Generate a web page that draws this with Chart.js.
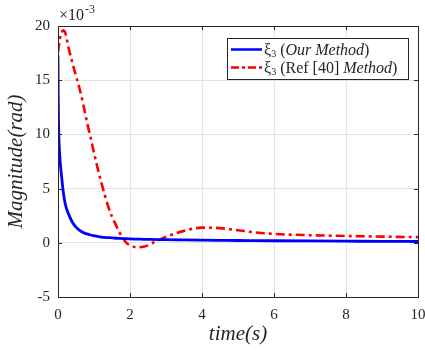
<!DOCTYPE html>
<html><head><meta charset="utf-8">
<script src="https://cdn.jsdelivr.net/npm/chart.js@4"></script>
<style>html,body{margin:0;padding:0;background:#fff}#wrap{width:425px;height:351px}</style>
</head><body><div id="wrap"><canvas id="c" width="425" height="351"></canvas></div>
<script>
const timeBlue = [0,0.005,0.015,0.03,0.06,0.1,0.15,0.2,0.3,0.4,0.5,0.6,0.7,0.8,0.9,1.0,1.2,1.4,1.6,1.8,2.0,2.2,2.4,2.6,2.8,3.0,3.5,4,4.5,5,5.5,6,7,8,9,10];
const ourMethod = [17.3,14.0,11.0,9.2,7.5,6.1,4.6,3.6,2.6,1.9,1.45,1.15,0.95,0.82,0.72,0.65,0.53,0.47,0.42,0.39,0.36,0.34,0.32,0.31,0.30,0.29,0.27,0.25,0.23,0.21,0.20,0.19,0.17,0.15,0.13,0.12];
const timeRed = [0,0.05,0.1,0.15,0.2,0.3,0.4,0.5,0.6,0.7,0.8,0.9,1.0,1.1,1.2,1.3,1.4,1.5,1.6,1.7,1.8,1.9,2.0,2.2,2.4,2.6,2.8,3.0,3.5,4.0,4.5,5.0,5.5,6,7,8,9,10];
const refMethod = [17.6,18.8,19.4,19.6,19.4,17.9,16.6,15.4,14.2,12.8,11.2,9.8,8.3,6.9,5.6,4.4,3.3,2.4,1.7,1.0,0.45,0.0,-0.22,-0.42,-0.35,-0.05,0.25,0.55,1.1,1.4,1.35,1.15,0.95,0.82,0.7,0.63,0.57,0.52];
const xTicks = [0,2,4,6,8,10];
const yTicks = [-5,0,5,10,15,20];
const legendLabels = ['ξ3 (Our Method)', 'ξ3 (Ref [40] Method)'];

const SERIF = '"Liberation Serif", "DejaVu Serif", serif';
const INK = '#262626';

const boxPlugin = {
  id: 'boxPlugin',
  afterDraw(chart) {
    const ctx = chart.ctx, a = chart.chartArea;
    const xs = chart.scales.x, ys = chart.scales.y;
    ctx.save();
    ctx.strokeStyle = INK; ctx.lineWidth = 1;
    ctx.strokeRect(Math.round(a.left)+0.5, Math.round(a.top)+0.5, Math.round(a.right-a.left), Math.round(a.bottom-a.top));
    ctx.beginPath();
    xTicks.forEach(v => { const p = Math.round(xs.getPixelForValue(v))+0.5;
      ctx.moveTo(p, a.bottom); ctx.lineTo(p, a.bottom-4);
      ctx.moveTo(p, a.top); ctx.lineTo(p, a.top+4); });
    yTicks.forEach(v => { const p = Math.round(ys.getPixelForValue(v))+0.5;
      ctx.moveTo(a.left, p); ctx.lineTo(a.left+4, p);
      ctx.moveTo(a.right, p); ctx.lineTo(a.right-4, p); });
    ctx.stroke();
    // exponent
    ctx.fillStyle = INK; ctx.textBaseline = 'alphabetic'; ctx.textAlign = 'left';
    ctx.font = '16px ' + SERIF;
    ctx.fillText('×10', 59, 20);
    const w = ctx.measureText('×10').width;
    ctx.font = '12px ' + SERIF;
    ctx.fillText('-3', 59 + w + 1, 13);
    // legend
    const lx = 227, ly = 38, lw = 181, lh = 41;
    ctx.fillStyle = '#fff';
    ctx.fillRect(lx, ly, lw, lh);
    ctx.strokeStyle = INK; ctx.lineWidth = 1;
    ctx.strokeRect(lx+0.5, ly+0.5, lw, lh);
    const rows = [
      {color:'#0000ff', dash:[], parts:[['ξ',false],['3',false,'sub'],[' (',false],['Our Method',true],[')',false]]},
      {color:'#ff0000', dash:[8,3,3,3], parts:[['ξ',false],['3',false,'sub'],[' (Ref [40] ',false],['Method',true],[')',false]]}
    ];
    rows.forEach((r, i) => {
      const y = ly + 11.5 + i*18;
      ctx.strokeStyle = r.color; ctx.lineWidth = 2.5; ctx.setLineDash(r.dash);
      ctx.beginPath(); ctx.moveTo(lx+4, y); ctx.lineTo(lx+35, y); ctx.stroke();
      ctx.setLineDash([]);
      let x = lx + 37;
      ctx.fillStyle = INK;
      r.parts.forEach(([t, it, sub]) => {
        ctx.font = (it ? 'italic ' : '') + (sub ? '10px ' : '16px ') + SERIF;
        ctx.fillText(t, x, y + (sub ? 7 : 5));
        x += ctx.measureText(t).width;
      });
    });
    ctx.restore();
  }
};

new Chart(document.getElementById('c'), {
  type: 'line',
  data: {
    datasets: [
      { label: legendLabels[0], data: timeBlue.map((t,i)=>({x:t,y:ourMethod[i]})),
        borderColor:'#0000ff', borderWidth:2.8, pointRadius:0, cubicInterpolationMode:'monotone', fill:false },
      { label: legendLabels[1], data: timeRed.map((t,i)=>({x:t,y:refMethod[i]})),
        borderColor:'#ff0000', borderWidth:2.6, borderDash:[9,4,3,4], pointRadius:0, cubicInterpolationMode:'monotone', fill:false }
    ]
  },
  options: {
    responsive:false, animation:false, devicePixelRatio:1,
    layout:{padding:{top:26,right:7,left:0,bottom:0}},
    plugins:{legend:{display:false}, tooltip:{enabled:false}},
    scales:{
      x:{type:'linear', min:0, max:10,
        afterBuildTicks(s){ s.ticks = xTicks.map(v=>({value:v})); },
        afterFit(s){ s.height = 54; s.paddingLeft = 0; s.paddingRight = 0; },
        grid:{color:'#e3e3e3', drawTicks:false},
        border:{color:INK},
        ticks:{color:INK, padding:9, font:{family:SERIF, size:15}, maxRotation:0},
        title:{display:true, text:'time(s)', color:INK, font:{family:SERIF, size:21, style:'italic'}, padding:{top:0,bottom:4}}
      },
      y:{type:'linear', min:-5, max:20,
        afterBuildTicks(s){ s.ticks = yTicks.map(v=>({value:v})); },
        afterFit(s){ s.width = 58; s.paddingTop = 0; s.paddingBottom = 0; },
        grid:{color:'#e3e3e3', drawTicks:false},
        border:{color:INK},
        ticks:{color:INK, padding:8, font:{family:SERIF, size:15}},
        title:{display:true, text:'Magnitude(rad)', color:INK, font:{family:SERIF, size:21, style:'italic'}, padding:{top:4,bottom:0}}
      }
    }
  },
  plugins:[boxPlugin]
});
</script></body></html>
